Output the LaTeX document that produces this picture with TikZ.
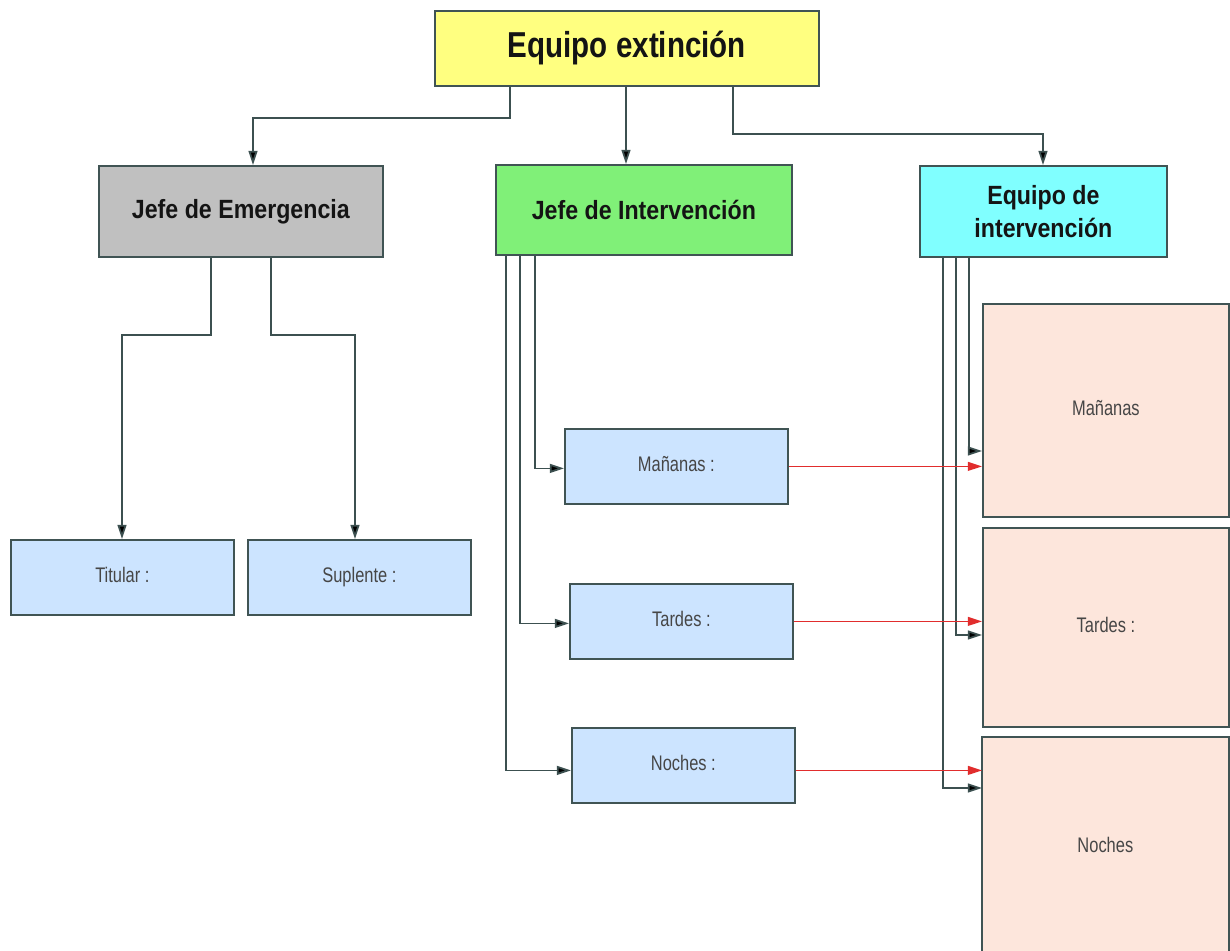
\documentclass[tikz,border=0pt]{standalone}
\usepackage{fontspec}
\setmainfont{Liberation Sans}
\newfontfamily\titlefont[FakeStretch=0.82]{Liberation Sans}
\newfontfamily\headfont[FakeStretch=0.88]{Liberation Sans}
\newfontfamily\smallfont[FakeStretch=0.78]{Liberation Sans}
\usetikzlibrary{arrows.meta}
\definecolor{cyellow}{RGB}{255,255,128}
\definecolor{cgray}{RGB}{192,192,192}
\definecolor{cgreen}{RGB}{128,240,120}
\definecolor{ccyan}{RGB}{128,255,255}
\definecolor{cblue}{RGB}{204,228,255}
\definecolor{cpeach}{RGB}{253,230,220}
\definecolor{cborder}{RGB}{64,84,84}
\definecolor{cline}{RGB}{60,80,80}
\definecolor{cred}{RGB}{225,45,45}
\definecolor{ctext}{RGB}{20,20,20}
\definecolor{csmall}{RGB}{70,70,70}
\tikzset{
  box/.style={draw=cborder, line width=1pt, inner sep=0pt, anchor=north west},
  titlebox/.style={box, fill=cyellow, font=\titlefont\bfseries\fontsize{20.5}{24}\selectfont, text=ctext},
  headbox/.style={box, font=\headfont\bfseries\fontsize{15}{19}\selectfont, text=ctext, align=center},
  smallbox/.style={box, fill=cblue, font=\smallfont\fontsize{12}{14}\selectfont, text=csmall,
    text height=0.75em, text depth=0.18em, minimum width=223*0.02cm, minimum height=75*0.02cm},
  bigbox/.style={inner sep=0pt, anchor=north west, fill=cpeach, font=\smallfont\fontsize{12}{14}\selectfont, text=csmall,
    text height=0.75em, text depth=0.18em, minimum width=246*0.02cm},
  conn/.style={draw=cline, line width=1pt, -{Triangle[length=8pt,width=5pt,fill=black]}},
  redconn/.style={draw=cred, line width=0.9pt, -{Triangle[length=8pt,width=5pt,fill=cred]}},
}
\begin{document}
\begin{tikzpicture}[x=0.02cm,y=-0.02cm]
\useasboundingbox (0,0) rectangle (1230,950);
\fill[white] (0,0) rectangle (1230,950);

% top level
\node[titlebox, minimum width=384*0.02cm, minimum height=75*0.02cm] (top) at (434,10) {Equipo extinción};

% second level
\node[headbox, fill=cgray, minimum width=284*0.02cm, minimum height=91*0.02cm] (je) at (98,165) {Jefe de Emergencia};
\node[headbox, fill=cgreen, minimum width=296*0.02cm, minimum height=90*0.02cm] (ji) at (495,164) {Jefe de Intervención};
\node[headbox, fill=ccyan, minimum width=247*0.02cm, minimum height=91*0.02cm] (ei) at (919,165) {Equipo de\\intervención};

% third level
\node[smallbox] (tit) at (10,539) {Titular :};
\node[smallbox] (sup) at (247,539) {Suplente :};
\node[smallbox] (lm) at (564,428) {Mañanas :};
\node[smallbox] (lt) at (569,583) {Tardes :};
\node[smallbox] (ln) at (571,727) {Noches :};

% right boxes
\node[bigbox, draw=cborder, line width=1pt, minimum height=213*0.02cm] (rm) at (982,303) {Mañanas};
\node[bigbox, draw=cborder, line width=1pt, minimum height=199*0.02cm] (rt) at (982,527) {Tardes :};
\node[bigbox, minimum height=220*0.02cm] (rn) at (982,737) {Noches};
\draw[cborder, line width=1pt] (rn.south west) -- (rn.north west) -- (rn.north east) -- (rn.south east);

% connectors from top
\draw[conn] (510,0 |- top.south) -- (510,118) -| (253,0 |- je.north);
\draw[conn] (626,0 |- top.south) -- (626,0 |- ji.north);
\draw[conn] (733,0 |- top.south) -- (733,134) -| (1043,0 |- ei.north);

% Jefe de Emergencia
\draw[conn] (211,0 |- je.south) -- (211,335) -| (122,0 |- tit.north);
\draw[conn] (271,0 |- je.south) -- (271,335) -| (355,0 |- sup.north);

% Jefe de Intervencion
\draw[conn] (535,0 |- ji.south) |- ([yshift=-2*0.02cm]lm.west);
\draw[conn] (520,0 |- ji.south) |- ([yshift=-2*0.02cm]lt.west);
\draw[conn] (506,0 |- ji.south) |- ([yshift=-5*0.02cm]ln.west);

% Equipo de intervencion
\draw[conn] (969,0 |- ei.south) |- (rm.west |- 0,451);
\draw[conn] (956,0 |- ei.south) |- (rt.west |- 0,635);
\draw[conn] (943,0 |- ei.south) |- (rn.west |- 0,788);

% red connectors
\draw[redconn] (lm.east) -- (rm.west |- lm.east);
\draw[redconn] (lt.east) -- (rt.west |- lt.east);
\draw[redconn] ([yshift=-5*0.02cm]ln.east) coordinate (nr) -- (rn.west |- nr);
\end{tikzpicture}
\end{document}
